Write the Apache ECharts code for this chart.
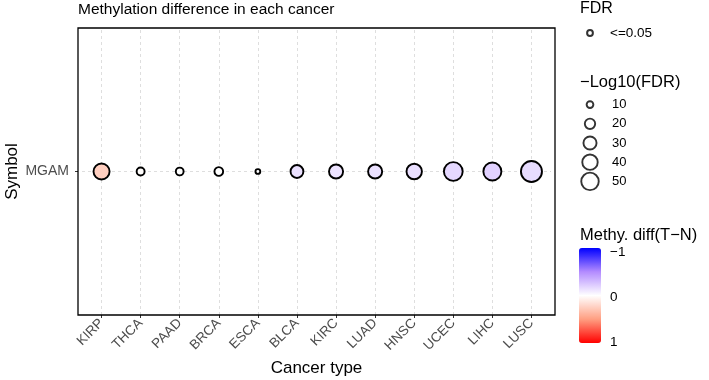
<!DOCTYPE html>
<html><head><meta charset="utf-8">
<script src="https://cdn.jsdelivr.net/npm/echarts@6/dist/echarts.min.js"></script>
<style>html,body{margin:0;padding:0;background:#fff}#c{width:709px;height:380px}</style>
</head><body><div id="c"></div>
<script>
const cancerTypes = ['KIRP','THCA','PAAD','BRCA','ESCA','BLCA','KIRC','LUAD','HNSC','UCEC','LIHC','LUSC'];
const symbols = ['MGAM'];
const methyDiff = [0.25, 0.01, 0.0, 0.0, -0.01, -0.13, -0.12, -0.13, -0.14, -0.17, -0.2, -0.15];
const negLog10FDR = [43, 13, 12.5, 15, 6, 29, 34, 34, 40, 57, 53, 70];
const sizeBreaks = [10, 20, 30, 40, 50];
const fdrLabels = ['<=0.05'];
const colorTicks = [-1, 0, 1];

const BW = 1.9;
function bubble(v) { return 2.74 * Math.sqrt(v) - BW; }
const FONT = 'Liberation Sans, Arial, sans-serif';
const minus = s => String(s).replace('-', '\u2212');

const chart = echarts.init(document.getElementById('c'), null, {renderer: 'canvas'});
chart.setOption({
  animation: false,
  backgroundColor: '#fff',
  textStyle: {fontFamily: FONT},
  title: [
    {text: 'Methylation difference in each cancer', left: 78, top: 2, padding: 0,
     textStyle: {fontSize: 15.5, fontWeight: 'normal', color: '#000', fontFamily: FONT}},
    {text: 'FDR', left: 580, top: 1, padding: 0,
     textStyle: {fontSize: 16, fontWeight: 'normal', color: '#000', fontFamily: FONT}},
    {text: '\u2212Log10(FDR)', left: 580, top: 74, padding: 0,
     textStyle: {fontSize: 16.5, fontWeight: 'normal', color: '#000', fontFamily: FONT}},
    {text: 'Methy. diff(T\u2212N)', left: 580, top: 227, padding: 0,
     textStyle: {fontSize: 16.5, fontWeight: 'normal', color: '#000', fontFamily: FONT}}
  ],
  grid: [
    {left: 82, right: 158, top: 28, bottom: 65, outerBoundsMode: 'none', containLabel: false},
    {left: 580, width: 20, top: 95, height: 96, outerBoundsMode: 'none', containLabel: false},
    {left: 580, width: 20, top: 24, height: 18, outerBoundsMode: 'none', containLabel: false},
    {left: 579, width: 22, top: 252, height: 90, outerBoundsMode: 'none', containLabel: false}
  ],
  xAxis: [
    {type: 'category', gridIndex: 0, data: cancerTypes, boundaryGap: true,
     name: 'Cancer type', nameLocation: 'middle', nameGap: 45, nameMoveOverlap: false,
     nameTextStyle: {fontSize: 17, color: '#000', fontFamily: FONT},
     axisLine: {show: false},
     axisTick: {show: true, alignWithLabel: true, length: 3, lineStyle: {color: '#333', width: 1}},
     axisLabel: {rotate: 45, fontSize: 13.5, color: '#4d4d4d', margin: 6, interval: 0, fontFamily: FONT},
     splitLine: {show: false}},
    {type: 'category', gridIndex: 1, data: ['k'], show: false},
    {type: 'category', gridIndex: 2, data: ['k'], show: false},
    {type: 'value', gridIndex: 3, show: false}
  ],
  yAxis: [
    {type: 'category', gridIndex: 0, data: symbols, boundaryGap: true, offset: 4,
     name: 'Symbol', nameLocation: 'middle', nameGap: 57, nameRotate: 90, nameMoveOverlap: false,
     nameTextStyle: {fontSize: 17, color: '#000', fontFamily: FONT},
     axisLine: {show: false},
     axisTick: {show: true, alignWithLabel: true, length: 3, lineStyle: {color: '#333', width: 1}},
     axisLabel: {fontSize: 14, color: '#4d4d4d', margin: 9, fontFamily: FONT},
     splitLine: {show: false}},
    {type: 'category', gridIndex: 1, data: sizeBreaks.map(String), inverse: true, position: 'right',
     axisLine: {show: false}, axisTick: {show: false},
     axisLabel: {fontSize: 13, color: '#000', margin: 12, fontFamily: FONT}},
    {type: 'category', gridIndex: 2, data: fdrLabels, position: 'right',
     axisLine: {show: false}, axisTick: {show: false},
     axisLabel: {fontSize: 13.5, color: '#000', margin: 10, fontFamily: FONT}},
    {type: 'value', gridIndex: 3, min: colorTicks[0], max: colorTicks[colorTicks.length - 1], interval: 1,
     inverse: true, position: 'right',
     axisLine: {show: false}, axisTick: {show: false}, splitLine: {show: false},
     axisLabel: {fontSize: 13.5, color: '#000', margin: 9, fontFamily: FONT, formatter: v => minus(v),
       customValues: colorTicks}}
  ],
  visualMap: {
    type: 'continuous', seriesIndex: 0, dimension: 2, min: -1, max: 1, inverse: true,
    orient: 'vertical', left: 579, top: 248, itemWidth: 22, itemHeight: 95, padding: 0,
    calculable: false, hoverLink: false, text: null, showLabel: false,
    inRange: {color: ['#0000FF', '#B38BFF', '#FFFFFF', '#FF9E81', '#FF0000']}
  },
  graphic: [
    {type: 'rect', shape: {x: 78, y: 28, width: 477, height: 287}, z: 10,
     style: {fill: 'none', stroke: '#000', lineWidth: 1.3}}
  ],
  series: [
    {type: 'scatter', xAxisIndex: 0, yAxisIndex: 0, z: 5,
     data: cancerTypes.map((c, i) => [c, symbols[0], methyDiff[i], negLog10FDR[i]]),
     encode: {x: 0, y: 1},
     symbolSize: v => bubble(v[3]),
     itemStyle: {borderColor: '#000', borderWidth: BW, opacity: 1}},
    {type: 'line', xAxisIndex: 0, yAxisIndex: 0, z: 1, data: [],
     markLine: {silent: true, symbol: 'none', animation: false,
       label: {show: false},
       lineStyle: {type: [3, 3], color: '#d6d6d6', width: 0.8},
       emphasis: {disabled: true},
       data: [...cancerTypes.map((c, i) => ({xAxis: i})), {yAxis: 0}]}},
    {type: 'scatter', xAxisIndex: 1, yAxisIndex: 1,
     data: sizeBreaks.map(v => ['k', String(v), v]),
     symbolSize: v => bubble(v[2]),
     itemStyle: {color: '#fff', borderColor: '#000', borderWidth: BW}},
    {type: 'scatter', xAxisIndex: 2, yAxisIndex: 2,
     data: fdrLabels.map(l => ['k', l]),
     symbolSize: 5.8,
     itemStyle: {color: '#fff', borderColor: '#000', borderWidth: 2}}
  ]
});
</script>
</body></html>
